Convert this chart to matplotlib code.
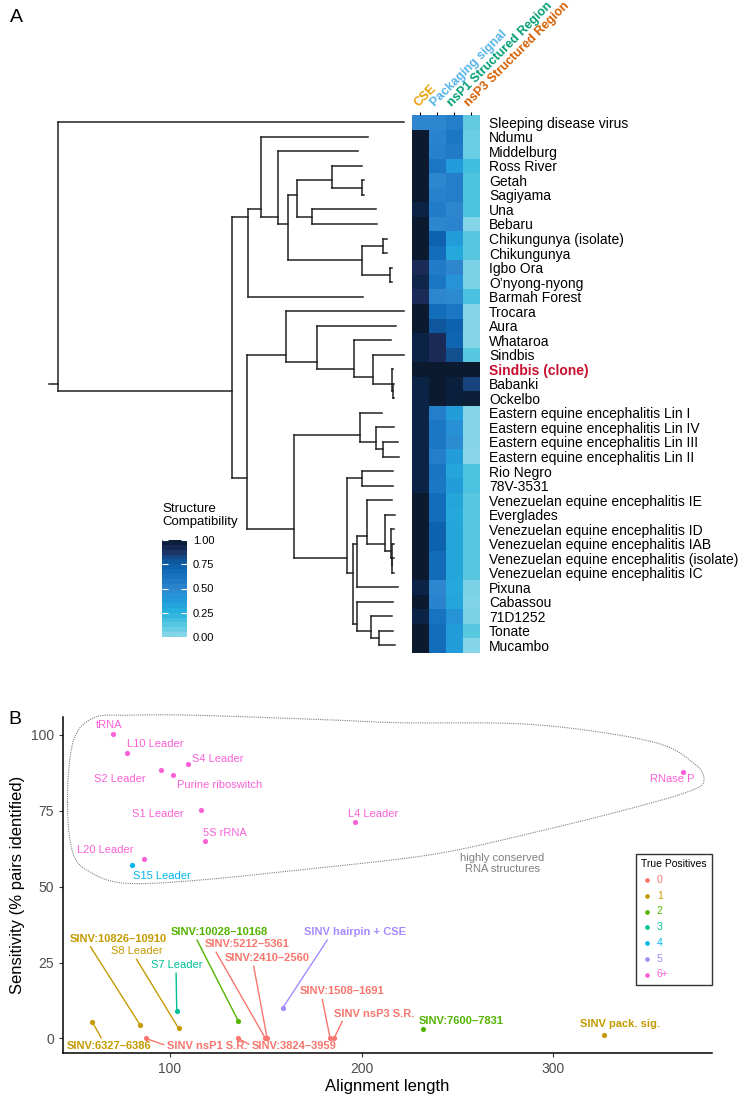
import numpy as np
import matplotlib.pyplot as plt
from matplotlib.colors import LinearSegmentedColormap, Normalize
from matplotlib.cm import ScalarMappable
from matplotlib.collections import LineCollection

plt.rcParams['font.family'] = ['Liberation Sans', 'DejaVu Sans']

############################################################################################################
# Panel A data
############################################################################################################
regions = ["CSE", "Packaging signal", "nsP1 Structured Region", "nsP3 Structured Region"]
region_colors = ["#E69F00", "#56B4E9", "#009E73", "#D55E00"]

taxa = ["Sleeping disease virus", "Ndumu", "Middelburg", "Ross River", "Getah", "Sagiyama", "Una",
        "Bebaru", "Chikungunya (isolate)", "Chikungunya", "Igbo Ora", "O\u2019nyong-nyong",
        "Barmah Forest", "Trocara", "Aura", "Whataroa", "Sindbis", "Sindbis (clone)", "Babanki",
        "Ockelbo", "Eastern equine encephalitis Lin I", "Eastern equine encephalitis Lin IV",
        "Eastern equine encephalitis Lin III", "Eastern equine encephalitis Lin II", "Rio Negro",
        "78V-3531", "Venezuelan equine encephalitis IE", "Everglades",
        "Venezuelan equine encephalitis ID", "Venezuelan equine encephalitis IAB",
        "Venezuelan equine encephalitis (isolate)", "Venezuelan equine encephalitis IC", "Pixuna",
        "Cabassou", "71D1252", "Tonate", "Mucambo"]

cse = [0.5, 1, 1, 1, 1, 1, 0.95, 1, 1, 1, 0.9, 0.94, 0.9, 1, 1, 0.95, 0.95, 1, 0.95,
       0.95, 0.95, 0.95, 0.95, 0.95, 0.95, 0.95, 1, 1, 1, 1, 1, 1, 0.95, 1, 0.95, 1, 1]
packaging = [0.5, 0.52, 0.53, 0.6, 0.5, 0.53, 0.56, 0.5, 0.72, 0.65, 0.57, 0.6, 0.5, 0.65, 0.77,
             0.9, 0.9, 1, 1, 1, 0.55, 0.6, 0.6, 0.55, 0.61, 0.6, 0.65, 0.65, 0.72, 0.72, 0.66,
             0.66, 0.5, 0.52, 0.62, 0.65, 0.65]
nsp1 = [0.55, 0.6, 0.57, 0.38, 0.55, 0.55, 0.5, 0.52, 0.37, 0.3, 0.5, 0.42, 0.48, 0.6, 0.72,
        0.7, 0.8, 1, 0.97, 0.97, 0.37, 0.44, 0.46, 0.36, 0.32, 0.37, 0.32, 0.3, 0.32, 0.32,
        0.32, 0.32, 0.3, 0.32, 0.42, 0.36, 0.36]
nsp3 = [0.1, 0.08, 0.08, 0.18, 0.15, 0.15, 0.15, 0.02, 0.12, 0.12, 0.04, 0.04, 0.16, 0.02,
        0.02, 0.02, 0.12, 1, 0.84, 0.98, 0.02, 0.02, 0.02, 0.01, 0.15, 0.15, 0.12, 0.12, 0.12,
        0.12, 0.12, 0.12, 0.04, 0.03, 0.04, 0.12, 0.02]

# tree: (branch length, tip name or list of children)
tree = (8.7, [
    (346, "Sleeping disease virus"),
    (174.3, [
        (15.4, [
            (13, [
                (107.8, "Ndumu"),
                (17, [
                    (80.8, "Middelburg"),
                    (10.6, [
                        (8.4, [
                            (35.6, [(29.4, "Ross River"),
                                    (30.2, [(1.8, "Getah"), (1.8, "Sagiyama")])]),
                            (15.6, [(63.7, "Una"), (64.4, "Bebaru")]),
                        ]),
                        (73.4, [
                            (21, [(4.6, "Chikungunya (isolate)"), (4.6, "Chikungunya")]),
                            (28.6, [(2, "Igbo Ora"), (2, "O\u2019nyong-nyong")]),
                        ]),
                    ]),
                ]),
            ]),
            (115, "Barmah Forest"),
        ]),
        (15, [
            (38.4, [
                (118.3, "Trocara"),
                (31, [
                    (78.8, "Aura"),
                    (36.8, [
                        (37.5, "Whataroa"),
                        (19, [
                            (31.5, "Sindbis"),
                            (19.2, [(1.3, "Sindbis (clone)"),
                                    (0.8, [(1.2, "Babanki"), (1.5, "Ockelbo")])]),
                        ]),
                    ]),
                ]),
            ]),
            (46.7, [
                (66, [(22, "Eastern equine encephalitis Lin I"),
                      (15.7, [(18.8, "Eastern equine encephalitis Lin IV"),
                              (7.3, [(14.7, "Eastern equine encephalitis Lin III"),
                                     (16, "Eastern equine encephalitis Lin II")])])]),
                (52.7, [
                    (15.6, [(30.4, "Rio Negro"), (31.2, "78V-3531")]),
                    (6.8, [
                        (3.8, [
                            (9.4, [(25, "Venezuelan equine encephalitis IE"),
                                   (18.3, [(10, "Everglades"),
                                           (6, [(3, "Venezuelan equine encephalitis ID"),
                                                (0.8, [(2.5, "Venezuelan equine encephalitis IAB"),
                                                       (0.7, [(2, "Venezuelan equine encephalitis (isolate)"),
                                                              (2, "Venezuelan equine encephalitis IC")])])])])]),
                            (41, "Pixuna"),
                        ]),
                        (3.8, [(36, "Cabassou"),
                               (13.4, [(21, "71D1252"),
                                       (8.6, [(14, "Tonate"), (15.7, "Mucambo")])])]),
                    ]),
                ]),
            ]),
        ]),
    ]),
])

############################################################################################################
# Panel B data
############################################################################################################
names = ["tRNA", "L10 Leader", "S4 Leader", "S2 Leader", "Purine riboswitch", "S1 Leader",
         "5S rRNA", "L20 Leader", "S15 Leader", "L4 Leader", "RNase P",
         "SINV:6327\u20136386", "SINV:10826\u201310910", "S8 Leader", "S7 Leader",
         "SINV nsP1 S.R.", "SINV:3824\u20133959", "SINV:10028\u201310168", "SINV:5212\u20135361",
         "SINV:2410\u20132560", "SINV hairpin + CSE", "SINV:1508\u20131691", "SINV nsP3 S.R.",
         "SINV:7600\u20137831", "SINV pack. sig."]
aln_len = [70, 77.4, 109.2, 95.3, 101.4, 116.4, 118.4, 86.3, 80.3, 196.8, 367.7,
           59.3, 84.3, 104.5, 103.5, 87.3, 135.5, 135.5, 149.8, 150.7, 158.8, 183.6, 185.6,
           232, 326.5]
sens = [100.3, 94.1, 90.3, 88.5, 86.7, 75.3, 65, 59, 57.3, 71.4, 87.7,
        5.5, 4.5, 3.3, 9, 0, 0, 5.9, 0, 0, 10, 0, 0, 3.2, 1.1]
true_pos = ["6+"] * 8 + ["4", "6+", "6+",
            "1", "1", "1", "3", "0", "0", "2", "0", "0", "5", "0", "0", "2", "1"]
tp_levels = ["0", "1", "2", "3", "4", "5", "6+"]
tp_colors = ["#F8766D", "#C49A00", "#53B400", "#00C094", "#00B6EB", "#A58AFF", "#FB61D7"]

# label placement (data coords) and where the repel segment leaves the label box
label_pos = {
    "tRNA": (68.3, 103.1), "L10 Leader": (92.2, 97), "S4 Leader": (124.8, 92),
    "S2 Leader": (73.7, 85.4), "Purine riboswitch": (125.8, 83.5), "S1 Leader": (93.5, 73.9),
    "5S rRNA": (128.6, 67.6), "L20 Leader": (66.4, 62.1), "S15 Leader": (95.8, 53.4),
    "L4 Leader": (205.9, 73.9), "RNase P": (362.1, 85.4),
    "SINV:6327\u20136386": (68, -2.4), "SINV:10826\u201310910": (73.2, 32.8),
    "S8 Leader": (82.9, 28.7), "S7 Leader": (103.4, 24.1), "SINV nsP1 S.R.": (119.2, -2.4),
    "SINV:3824\u20133959": (164.8, -2.4), "SINV:10028\u201310168": (126, 35),
    "SINV:5212\u20135361": (140, 31), "SINV:2410\u20132560": (150.5, 26.4),
    "SINV hairpin + CSE": (196.4, 35), "SINV:1508\u20131691": (189.8, 15.5),
    "SINV nsP3 S.R.": (206.6, 8.2), "SINV:7600\u20137831": (252, 5.7),
    "SINV pack. sig.": (334.7, 4.9),
}
seg_from = {
    "SINV:6327\u20136386": (0.43, 1.0), "SINV:10826\u201310910": (0.19, 0.0),
    "S8 Leader": (0.45, 0.0), "S7 Leader": (0.49, 0.0), "SINV nsP1 S.R.": (0.0, 0.5),
    "SINV:3824\u20133959": (0.0, 0.5), "SINV:10028\u201310168": (0.25, 0.0),
    "SINV:5212\u20135361": (0.12, 0.0), "SINV:2410\u20132560": (0.34, 0.0),
    "SINV hairpin + CSE": (0.25, 0.0), "SINV:1508\u20131691": (0.26, 0.0),
    "SINV nsP3 S.R.": (0.12, 0.0),
}
# outline of the "highly conserved" group
hull_x = [46.4, 49.5, 60, 77.4, 112.2, 181.8, 220, 289.7, 350.8, 373.3, 378.8, 371.5, 341.9,
          289.7, 235.8, 164.4, 112.2, 77.4, 60, 49.5]
hull_y = [78, 98, 105.6, 106.5, 106.5, 105, 104, 103.4, 97.9, 90.8, 85, 81.5, 76, 67.8, 60.5,
          55.3, 52, 51.1, 54.2, 60.7]

############################################################################################################
W, H = 745, 1096
fig = plt.figure(figsize=(W / 100, H / 100), dpi=100)


def box(x0, y0, x1, y1):
    # pixel box (top-left origin) -> figure fraction rect
    return [x0 / W, 1 - y1 / H, (x1 - x0) / W, (y1 - y0) / H]


cmap = LinearSegmentedColormap.from_list("compat", [
    (0.0, "#8DD8E9"), (0.125, "#55C7E0"), (0.25, "#27B3DE"), (0.375, "#239BDA"),
    (0.5, "#2E87CF"), (0.625, "#1772C0"), (0.75, "#0C5EA8"), (0.84, "#17457E"),
    (0.9, "#1C2C58"), (0.95, "#0C2548"), (1.0, "#0B1A2E")])

############################################################################################################
# tree layout
tips = []
segs = []


def layout(node, x0):
    bl, sub = node
    x = x0 + bl
    if isinstance(sub, str):
        y = len(tips)
        tips.append(sub)
        segs.append([(x0, y), (x, y)])
        return y, y, y
    res = [layout(ch, x) for ch in sub]
    lo = min(r[1] for r in res)
    hi = max(r[2] for r in res)
    y = (lo + hi) / 2
    segs.append([(x, res[0][0]), (x, res[-1][0])])
    segs.append([(x0, y), (x, y)])
    return y, lo, hi


layout(tree, -tree[0])
n = len(tips)

top_px, bot_px = 115, 652.7
ax_t = fig.add_axes(box(40, top_px, 411.7, bot_px))
lc = LineCollection(segs, colors="#222222", linewidths=1.1)
lc.set_capstyle("projecting")
ax_t.add_collection(lc)
ax_t.set_xlim(-18, 353.7)
ax_t.set_ylim(n - 0.5, -0.5)
ax_t.axis("off")

# heatmap
vals = {t: (a, b, c, d) for t, a, b, c, d in zip(taxa, cse, packaging, nsp1, nsp3)}
M = np.array([vals[t] for t in tips])
ax_h = fig.add_axes(box(411.7, top_px, 479.3, bot_px))
ax_h.imshow(M, cmap=cmap, vmin=0, vmax=1, aspect="auto", interpolation="nearest")
for s in ax_h.spines.values():
    s.set_visible(False)
ax_h.yaxis.tick_right()
ax_h.set_yticks(range(n))
ax_h.set_yticklabels(tips, fontsize=10)
ax_h.tick_params(axis="y", length=0, pad=7)
for lab in ax_h.get_yticklabels():
    if lab.get_text() == "Sindbis (clone)":
        lab.set_color("#C8102E")
        lab.set_fontweight("bold")
ax_h.xaxis.tick_top()
ax_h.set_xticks(range(4))
ax_h.set_xticklabels(regions, rotation=45, ha="left", va="bottom", rotation_mode="anchor",
                     fontsize=9, fontweight="bold")
ax_h.tick_params(axis="x", length=2.5, width=0.8, pad=1.5)
for lab, c in zip(ax_h.get_xticklabels(), region_colors):
    lab.set_color(c)

# colour bar
cax = fig.add_axes(box(162.3, 540, 187.3, 637))
cb = fig.colorbar(ScalarMappable(norm=Normalize(0, 1), cmap=cmap), cax=cax,
                  boundaries=np.linspace(0, 1, 21), ticks=[0, 0.25, 0.5, 0.75, 1])
cb.outline.set_visible(False)
cb.ax.set_yticklabels(["0.00", "0.25", "0.50", "0.75", "1.00"])
cax.tick_params(axis="y", which="both", direction="in", length=4, width=0.8, color="white",
                left=True, right=True, labelleft=False, labelright=True, labelsize=8, pad=4)
fig.text(162.3 / W, 1 - 503 / H, "Structure\nCompatibility", fontsize=9.5, va="top",
         ha="left", linespacing=1.15)

fig.text(10 / W, 1 - 9 / H, "A", fontsize=14, va="top", ha="left")

############################################################################################################
# Panel B
############################################################################################################
axB = fig.add_axes(box(63, 717, 712, 1053))
# smooth closed outline (Catmull-Rom) through the hull points
P = np.c_[hull_x, hull_y]
k = len(P)
curve = []
for i in range(k):
    p0, p1, p2, p3 = P[i - 1], P[i], P[(i + 1) % k], P[(i + 2) % k]
    for t in np.linspace(0, 1, 12, endpoint=False):
        curve.append(0.5 * (2 * p1 + (-p0 + p2) * t + (2 * p0 - 5 * p1 + 4 * p2 - p3) * t ** 2
                            + (-p0 + 3 * p1 - 3 * p2 + p3) * t ** 3))
curve.append(curve[0])
curve = np.array(curve)
axB.plot(curve[:, 0], curve[:, 1], color="#808080", lw=0.8, ls=(0, (1, 1)), zorder=1,
         clip_on=False)
axB.text(273.6, 57.6, "highly conserved\nRNA structures", color="#7F7F7F", fontsize=8,
         ha="center", va="center", linespacing=1.1)

col_of = dict(zip(tp_levels, tp_colors))
handles = []
for lev, c in zip(tp_levels, tp_colors):
    idx = [i for i, t in enumerate(true_pos) if t == lev]
    h = axB.scatter([aln_len[i] for i in idx], [sens[i] for i in idx], s=14, color=c,
                    linewidths=0, zorder=3, label=lev)
    handles.append(h)

for nm, x, y, tp in zip(names, aln_len, sens, true_pos):
    c = col_of[tp]
    lx, ly = label_pos[nm]
    bold = nm.startswith("SINV")
    if nm in seg_from:
        axB.annotate(nm, xy=(x, y), xytext=(lx, ly), color=c, fontsize=8,
                     fontweight="bold" if bold else "normal", ha="center", va="center",
                     arrowprops=dict(arrowstyle="-", color=c, lw=1.0, shrinkA=0, shrinkB=0,
                                     relpos=seg_from[nm]), zorder=2)
    else:
        axB.text(lx, ly, nm, color=c, fontsize=8, fontweight="bold" if bold else "normal",
                 ha="center", va="center", zorder=2)

axB.set_xlim(44.1, 383)
axB.set_ylim(-4.8, 105.9)
axB.set_xticks([100, 200, 300])
axB.set_yticks([0, 25, 50, 75, 100])
axB.spines["top"].set_visible(False)
axB.spines["right"].set_visible(False)
for s in ["left", "bottom"]:
    axB.spines[s].set_linewidth(1.1)
axB.tick_params(length=3, width=0.8, color="#333333", labelsize=10, labelcolor="#4D4D4D")
axB.set_xlabel("Alignment length", fontsize=12, labelpad=2)
axB.set_ylabel("Sensitivity (% pairs identified)", fontsize=12, labelpad=4)

leg = axB.legend(handles=handles, title="True Positives", loc="upper right",
                 bbox_to_anchor=(712 / W, 1 - 854 / H), bbox_transform=fig.transFigure,
                 borderaxespad=0, fontsize=7.5, title_fontsize=7.5, labelcolor=tp_colors,
                 frameon=True, fancybox=False, edgecolor="black", markerscale=0.9,
                 handletextpad=0.3, labelspacing=0.55, borderpad=0.5, handlelength=1.2)
leg.get_frame().set_linewidth(1.0)
leg._legend_box.align = "left"

fig.text(8 / W, 1 - 711 / H, "B", fontsize=14, va="top", ha="left")

fig.savefig("out.png", dpi=100)
